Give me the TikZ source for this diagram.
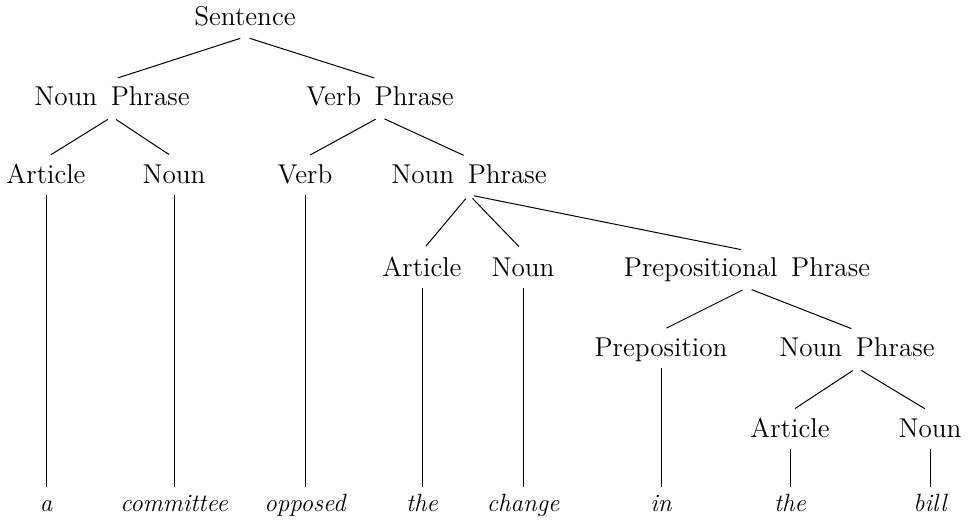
\documentclass[tikz,border=0pt]{standalone}
\newcommand{\catgap}{\hspace{0.5em}}

\begin{document}
\begin{tikzpicture}[x=0.5pt, y=-0.5pt,
        cat/.style={anchor=base, inner sep=3pt, text height=9.4pt, text depth=2.7pt, font=\fontsize{13.6}{16}\selectfont},
        word/.style={anchor=base, inner sep=3pt, text height=8.6pt, text depth=2.5pt, font=\fontsize{12.5}{15}\selectfont\itshape},
        branch/.style={line width=0.5pt, shorten <=2.5pt, shorten >=3pt},
        stem/.style={line width=0.5pt}
    ]
    \useasboundingbox (0,0) rectangle (970,526);

    % categories
    \node[cat] (s) at (245,25) {Sentence};
    \node[cat] (np) at (112,105) {Noun\catgap Phrase};
    \node[cat] (vp) at (380,105) {Verb\catgap Phrase};
    \node[cat] (art) at (46,183) {Article};
    \node[cat] (n) at (174,183) {Noun};
    \node[cat] (v) at (305,183) {Verb};
    \node[cat] (vnp) at (469,183) {Noun\catgap Phrase};
    \node[cat] (vart) at (422,276) {Article};
    \node[cat] (vn) at (523,276) {Noun};
    \node[cat] (pp) at (747,276) {Prepositional\catgap Phrase};
    \node[cat] (prep) at (661,356) {Preposition};
    \node[cat] (pnp) at (857,356) {Noun\catgap Phrase};
    \node[cat] (part) at (790,437) {Article};
    \node[cat] (pn) at (930,437) {Noun};

    % words
    \node[word] (w1) at (art |- 0,511) {a};
    \node[word] (w2) at (n |- 0,511) {committee};
    \node[word] (w3) at (v |- 0,511) {opposed};
    \node[word] (w4) at (vart |- 0,511) {the};
    \node[word] (w5) at (vn |- 0,511) {change};
    \node[word] (w6) at (prep |- 0,511) {in};
    \node[word] (w7) at (part |- 0,511) {the};
    \node[word] (w8) at (pn |- 0,511) {bill};

    \draw[branch] (s.south) -- (np.north);
    \draw[branch] (s.south) -- (vp.north);
    \draw[branch] (np.south) -- (art.north);
    \draw[branch] (np.south) -- (n.north);
    \draw[branch] (vp.south) -- (v.north);
    \draw[branch] (vp.south) -- (vnp.north);
    \draw[branch] (vnp.south) -- (vart.north);
    \draw[branch] (vnp.south) -- (vn.north);
    \draw[branch] (vnp.south) -- (pp.north);
    \draw[branch] (pp.south) -- (prep.north);
    \draw[branch] (pp.south) -- (pnp.north);
    \draw[branch] (pnp.south) -- (part.north);
    \draw[branch] (pnp.south) -- (pn.north);

    \draw[stem] (art.south) -- (w1.north);
    \draw[stem] (n.south) -- (w2.north);
    \draw[stem] (v.south) -- (w3.north);
    \draw[stem] (vart.south) -- (w4.north);
    \draw[stem] (vn.south) -- (w5.north);
    \draw[stem] (prep.south) -- (w6.north);
    \draw[stem] (part.south) -- (w7.north);
    \draw[stem] (pn.south) -- (w8.north);
\end{tikzpicture}
\end{document}
